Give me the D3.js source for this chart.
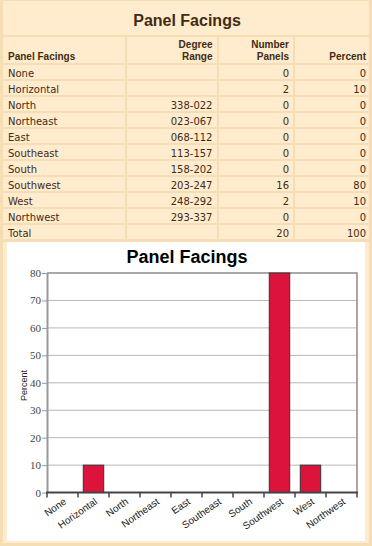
<!DOCTYPE html>
<html>
<head>
<meta charset="utf-8">
<script src="https://cdn.jsdelivr.net/npm/d3@7"></script>
<style>
  body { margin: 0; background: #f5deb3; }
  svg { display: block; }
</style>
</head>
<body>
<div id="wrapper"></div>
<script>
// data
const facings = ['None', 'Horizontal', 'North', 'Northeast', 'East', 'Southeast', 'South', 'Southwest', 'West', 'Northwest']
const degreeRanges = ['', '', '338-022', '023-067', '068-112', '113-157', '158-202', '203-247', '248-292', '293-337']
const numberPanels = [0, 2, 0, 0, 0, 0, 0, 16, 2, 0]
const percents = [0, 10, 0, 0, 0, 0, 0, 80, 10, 0]
const yTicks = [0, 10, 20, 30, 40, 50, 60, 70, 80]

function draw() {
  const width = 372, height = 546
  const cellColor = '#ffebcd'
  const textColor = '#3f2c14'

  const svg = d3.select('#wrapper').append('svg')
    .attr('width', width)
    .attr('height', height)

  svg.append('rect').attr('width', width).attr('height', height).attr('fill', '#f5deb3')

  //table
  const cols = [
    {x0: 3, x1: 125, tx: 8, anchor: 'start'},
    {x0: 127, x1: 217, tx: 212.5, anchor: 'end'},
    {x0: 219, x1: 293, tx: 289, anchor: 'end'},
    {x0: 295, x1: 369, tx: 366, anchor: 'end'}
  ]

  // title row
  svg.append('rect').attr('x', 3).attr('y', 1).attr('width', 366).attr('height', 34).attr('fill', cellColor)
  svg.append('text')
    .attr('x', 187).attr('y', 26)
    .attr('text-anchor', 'middle')
    .attr('font-family', 'Liberation Sans, Arial, sans-serif')
    .attr('font-weight', 'bold')
    .attr('font-size', 16)
    .attr('fill', textColor)
    .text('Panel Facings')

  // header row
  const headers = [['', 'Panel Facings'], ['Degree', 'Range'], ['Number', 'Panels'], ['', 'Percent']]
  cols.forEach((c, i) => {
    svg.append('rect').attr('x', c.x0).attr('y', 37).attr('width', c.x1 - c.x0).attr('height', 26).attr('fill', cellColor)
    headers[i].forEach((line, j) => {
      svg.append('text')
        .attr('x', c.tx).attr('y', 48 + j * 12)
        .attr('text-anchor', c.anchor)
        .attr('font-family', 'Liberation Sans, Arial, sans-serif')
        .attr('font-weight', 'bold')
        .attr('font-size', 10)
        .attr('fill', textColor)
        .text(line)
    })
  })

  // body rows
  const rows = facings.map((f, i) => [f, degreeRanges[i], numberPanels[i], percents[i]])
  rows.push(['Total', '', d3.sum(numberPanels), d3.sum(percents)])

  rows.forEach((r, i) => {
    const top = 65 + i * 16
    cols.forEach((c, j) => {
      svg.append('rect').attr('x', c.x0).attr('y', top).attr('width', c.x1 - c.x0).attr('height', 14).attr('fill', cellColor)
      svg.append('text')
        .attr('x', c.tx).attr('y', top + 11.5)
        .attr('text-anchor', c.anchor)
        .attr('font-family', 'DejaVu Sans, Verdana, sans-serif')
        .attr('font-size', 10)
        .attr('fill', textColor)
        .text(r[j])
    })
  })

  //chart cell
  svg.append('rect').attr('x', 3).attr('y', 242).attr('width', 366).attr('height', 301).attr('fill', cellColor)
  svg.append('rect').attr('x', 7).attr('y', 242).attr('width', 358).attr('height', 299).attr('fill', 'white')

  const plot = {left: 47, right: 357, top: 273, bottom: 492.6}

  const x = d3.scaleBand()
    .domain(facings)
    .range([plot.left, plot.right])
  const y = d3.scaleLinear()
    .domain([0, 80])
    .range([plot.bottom, plot.top])

  const chart = svg.append('g')

  chart.append('text')
    .attr('x', 187).attr('y', 263)
    .attr('text-anchor', 'middle')
    .attr('font-family', 'Liberation Sans, Arial, sans-serif')
    .attr('font-weight', 'bold')
    .attr('font-size', 18)
    .attr('fill', '#000')
    .text('Panel Facings')

  // grid
  chart.selectAll('.grid')
    .data(yTicks.filter(d => d > 0 && d < 80))
    .enter().append('line')
      .attr('x1', plot.left).attr('x2', plot.right)
      .attr('y1', d => y(d)).attr('y2', d => y(d))
      .attr('stroke', '#b8b8b8')
      .attr('stroke-width', 1)

  // frame top and right
  chart.append('path')
    .attr('d', `M${plot.left},${y(80)}H${plot.right}V${plot.bottom}`)
    .attr('fill', 'none')
    .attr('stroke', '#8c8c8c')
    .attr('stroke-width', 1.5)

  // bars
  const barWidth = x.bandwidth() * 0.66
  chart.selectAll('.bar')
    .data(facings.map((f, i) => ({f, v: percents[i]})).filter(d => d.v > 0))
    .enter().append('rect')
      .attr('x', d => x(d.f) + (x.bandwidth() - barWidth) / 2)
      .attr('y', d => y(d.v))
      .attr('width', barWidth)
      .attr('height', d => y(0) - y(d.v))
      .attr('fill', '#dc143c')
      .attr('stroke', '#333')
      .attr('stroke-width', 1)

  // y axis
  const yAxis = chart.append('g')
    .attr('transform', `translate(${plot.left},0)`)
    .call(d3.axisLeft(y).tickValues(yTicks).tickSize(5).tickPadding(1).tickSizeOuter(0))
  yAxis.select('.domain').attr('stroke', '#999').attr('stroke-width', 2)
  yAxis.selectAll('.tick line').attr('stroke', '#999')
  yAxis.selectAll('.tick text')
    .attr('font-family', 'Liberation Serif, Times New Roman, serif')
    .attr('font-size', 11)
    .attr('fill', '#444')

  chart.append('text')
    .attr('transform', 'translate(26.5,385.5) rotate(-90)')
    .attr('text-anchor', 'middle')
    .attr('font-family', 'Liberation Sans, Arial, sans-serif')
    .attr('font-size', 9)
    .attr('fill', '#222')
    .text('Percent')

  // x axis
  chart.append('line')
    .attr('x1', plot.left - 1).attr('x2', plot.right + 1)
    .attr('y1', plot.bottom).attr('y2', plot.bottom)
    .attr('stroke', '#444')
    .attr('stroke-width', 2)

  const edges = facings.map(f => x(f)).concat([plot.right])
  chart.selectAll('.xtick')
    .data(edges)
    .enter().append('line')
      .attr('x1', d => d).attr('x2', d => d)
      .attr('y1', plot.bottom).attr('y2', plot.bottom + 5)
      .attr('stroke', '#444')
      .attr('stroke-width', 1.5)

  chart.selectAll('.xlabel')
    .data(facings)
    .enter().append('text')
      .attr('transform', d => `translate(${x(d) + x.bandwidth() / 2 + 4.5},${plot.bottom + 10.5}) rotate(-35)`)
      .attr('text-anchor', 'end')
      .attr('font-family', 'Liberation Sans, Arial, sans-serif')
      .attr('font-size', 10)
      .attr('fill', '#222')
      .text(d => d)
}
draw()
</script>
</body>
</html>
